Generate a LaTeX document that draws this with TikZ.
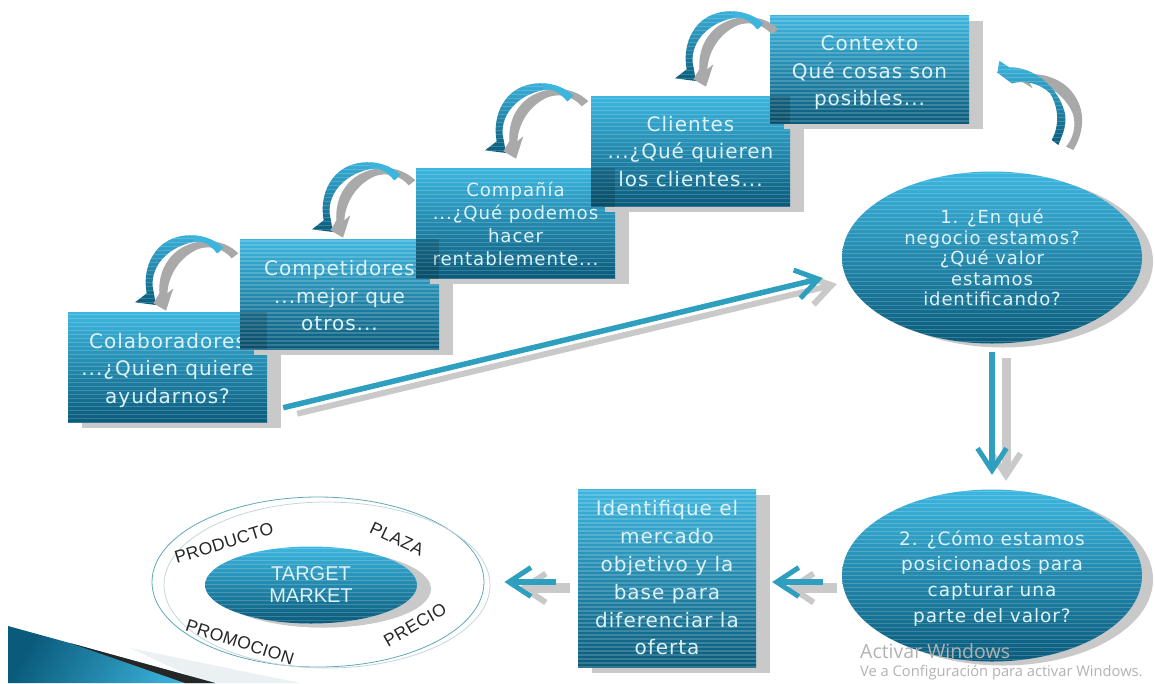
\documentclass[tikz,border=0pt]{standalone}
\usepackage{fontspec}
\setmainfont[LetterSpace=5]{DejaVu Sans}
\newfontfamily\labelfont[LetterSpace=2]{Liberation Sans}
\newfontfamily\targetfont{Liberation Sans}
\newfontfamily\winfont{Open Sans}
\usetikzlibrary{calc,shapes.geometric,shadows,arrows.meta}
\definecolor{bluetop}{HTML}{3DB6DF}
\definecolor{bluemid}{HTML}{2A98BF}
\definecolor{bluebot}{HTML}{0A5B7B}
\definecolor{shadowgray}{HTML}{C9C9C9}
\definecolor{curlgray}{HTML}{A9A9A9}
\definecolor{textpale}{HTML}{DDF2F7}
\definecolor{linkblue}{HTML}{2E9FBF}
\definecolor{ringteal}{HTML}{5FA8B8}
\definecolor{ringpale}{HTML}{C5D5DA}
\newcommand{\curlbluepath}{(280,68) .. controls (235,25) and (150,15) .. (95,60)
        .. controls (55,95) and (40,150) .. (50,205) -- (15,232) -- (78,240) -- (68,185)
        .. controls (62,120) and (120,60) .. (200,50)
        .. controls (225,48) and (245,65) .. (262,85) -- cycle}
\tikzset{
  stripes/.style={path picture={
    \foreach \i in {0,...,46}
      \draw[white,opacity=.18,line width=1.1pt]
        ($(path picture bounding box.north west)+(0pt,{-\i*#1pt-2pt})$) --
        ($(path picture bounding box.north east)+(0pt,{-\i*#1pt-2pt})$);
  }},
  bluefill/.style={top color=bluetop,middle color=bluemid,bottom color=bluebot,stripes=#1},
  stepbox/.style={rectangle,inner sep=0pt,minimum width=199pt,minimum height=110pt,
    bluefill=4,text=textpale,align=center,
    drop shadow={shadow xshift=14pt,shadow yshift=-5.5pt,fill=shadowgray,opacity=1},
    font=\fontsize{20}{27.5}\selectfont},
  ovalbox/.style={ellipse,inner sep=0pt,minimum width=300pt,minimum height=172pt,
    bluefill=4,text=textpale,align=center,
    drop shadow={shadow xshift=11pt,shadow yshift=-4pt,fill=shadowgray,opacity=1}},
  overlapdark/.style={fill=black,opacity=.14},
  blueline/.style={draw=linkblue,line width=#1},
  grayline/.style={draw=shadowgray,line width=#1},
  bluetip/.style={-{Straight Barb[length=22pt,width=29pt,line width=5pt]}},
  graytip/.style={-{Straight Barb[length=22pt,width=29pt,line width=6pt]}},
  ghost/.style={transform canvas={xshift=14pt,yshift=-6pt}},
  ringlabel/.style={font=\labelfont\fontsize{17.5}{20}\selectfont,text=black!85,inner sep=0pt},
  curlarrow/.pic={
    \begin{scope}[scale=1/3]
      \path[bluefill=12] \curlbluepath;
      \fill[curlgray] (325,85) .. controls (275,35) and (195,40) .. (145,75)
        .. controls (105,105) and (85,150) .. (88,205) -- (70,235) -- (108,257)
        -- (130,190) -- (112,205) .. controls (115,150) and (150,95) .. (205,72)
        .. controls (240,60) and (280,70) .. (305,100) -- cycle;
      \begin{scope}
        \clip (190,0) rectangle (340,110);
        \fill[bluetop] \curlbluepath;
      \end{scope}
    \end{scope}
  }
}
\begin{document}
\begin{tikzpicture}[x=1pt,y=-1pt]
\useasboundingbox (0,0) rectangle (1155,683);
% corner decoration of the slide
\fill[ringpale!35] (130,648) -- (300,683) -- (205,683) -- cycle;
\shade[left color=bluebot,right color=bluetop,shading angle=60] (8,626) -- (215,683) -- (8,683) -- cycle;
\fill[black!85] (70,643) -- (215,683) -- (185,683) -- cycle;
% target market rings
\node[ellipse,draw=ringteal,line width=.8pt,minimum width=332pt,minimum height=170pt,inner sep=0pt] (ringa) at (318,582) {};
\node[ellipse,draw=ringpale,line width=.8pt,minimum width=326pt,minimum height=166pt,inner sep=0pt] (ringb) at (327,585) {};
\node[ovalbox,minimum width=212pt,minimum height=77pt,
  drop shadow={shadow xshift=14pt,shadow yshift=-4pt,fill=shadowgray,opacity=1},
  font=\targetfont\fontsize{20}{22}\selectfont] (target) at (311,585) {TARGET\\MARKET};
\node[ringlabel,rotate=17] (producto) at (224,543) {PRODUCTO};
\node[ringlabel,rotate=-25] (plaza) at (397,539) {PLAZA};
\node[ringlabel,rotate=-18] (promocion) at (240,642) {PROMOCION};
\node[ringlabel,rotate=30] (precio) at (415,625) {PRECIO};
% stair of boxes
\node[stepbox] (cola) at (167.5,367.5) {\rule{0pt}{21pt}Colaboradores\\...¿Quien quiere\\ayudarnos?};
\node[stepbox] (comp) at (339.5,294) {\rule{0pt}{19pt}Competidores\\...mejor que\\otros...};
\fill[overlapdark] (comp.west |- cola.north) rectangle (cola.east |- comp.south);
\node[stepbox,font=\fontsize{18.2}{23}\selectfont] (compania) at (515.5,223.5) {Compañía\\...¿Qué podemos\\hacer\\rentablemente...};
\fill[overlapdark] (compania.west |- comp.north) rectangle (comp.east |- compania.south);
\node[stepbox] (clientes) at (690.5,151.5) {Clientes\\...¿Qué quieren\\los clientes...};
\fill[overlapdark] (clientes.west |- compania.north) rectangle (compania.east |- clientes.south);
\node[stepbox,minimum height=108pt] (contexto) at (869.5,69) {\rule{0pt}{23pt}Contexto\\Qué cosas son\\posibles...};
\fill[overlapdark] (contexto.west |- clientes.north) rectangle (clientes.east |- contexto.south);
% ovals and target box
\node[ovalbox,font=\fontsize{18}{20.5}\selectfont] (one) at (992,257.5) {1. ¿En qué\\negocio estamos?\\¿Qué valor\\estamos\\identificando?};
\node[ovalbox,font=\fontsize{18.5}{25.7}\selectfont] (two) at (992,575.5) {\rule{0pt}{20pt}2. ¿Cómo estamos\\posicionados para\\capturar una\\parte del valor?};
\node[stepbox,minimum width=178pt,minimum height=178pt,font=\fontsize{20}{27.8}\selectfont] (ident) at (667,578) {Identifique el\\mercado\\objetivo y la\\base para\\diferenciar la\\oferta};
% curled arrows
\pic (curla) at (130,225) {curlarrow};
\pic (curlb) at (307,152) {curlarrow};
\pic (curlc) at (480,73) {curlarrow};
\pic (curld) at (670,1) {curlarrow};
\begin{scope}[shift={(990,50)},scale=1/3]
  \fill[curlgray] (228,290) -- (250,300) .. controls (295,225) and (280,150) .. (225,105)
    .. controls (185,75) and (130,65) .. (100,78) -- (80,85) -- (128,115) -- (115,92)
    .. controls (165,95) and (225,135) .. (248,190) .. controls (260,225) and (250,265) .. (228,290) -- cycle;
  \path[bluefill=12] (28,32) -- (58,52) .. controls (130,50) and (205,110) .. (225,190)
    .. controls (230,225) and (220,250) .. (205,285) -- (185,270)
    .. controls (210,225) and (205,170) .. (180,130)
    .. controls (150,100) and (105,90) .. (65,100) -- (22,68) -- cycle;
\end{scope}
% connectors
\coordinate (longa) at ($(cola.south east)+(16,-15)$);
\coordinate (longb) at ($(one.west)+(-19,20.5)$);
\coordinate (downa) at ($(one.south)+(0,8.5)$);
\coordinate (downb) at ($(two.north)+(0,-14.5)$);
\coordinate (lefta) at ($(two.west)+(-19,6.5)$);
\coordinate (leftb) at ($(ident.east)+(16,4)$);
\coordinate (leftc) at ($(ident.west)+(-22,4)$);
\coordinate (leftd) at ($(ringa.east)+(20,0)$);
\draw[grayline=6pt,graytip,ghost] (longa) -- (longb);
\draw[blueline=5.5pt,bluetip] (longa) -- (longb);
\draw[grayline=9pt,graytip,ghost] (downa) -- (downb);
\draw[blueline=6.5pt,bluetip] (downa) -- (downb);
\draw[grayline=10pt,graytip,ghost] (lefta) -- (leftb);
\draw[blueline=6pt,bluetip] (lefta) -- (leftb);
\draw[grayline=10pt,graytip,ghost] (leftc) -- (leftd);
\draw[blueline=6pt,bluetip] (leftc) -- (leftd);
% watermark
\node[anchor=west,inner sep=0pt,text=black!30,font=\winfont\fontsize{19.5}{22}\selectfont] (wma) at (860,651) {Activar Windows};
\node[anchor=west,inner sep=0pt,text=black!30,font=\winfont\fontsize{14.7}{17}\selectfont] (wmb) at (860,673) {Ve a Configuración para activar Windows.};
\end{tikzpicture}
\end{document}
